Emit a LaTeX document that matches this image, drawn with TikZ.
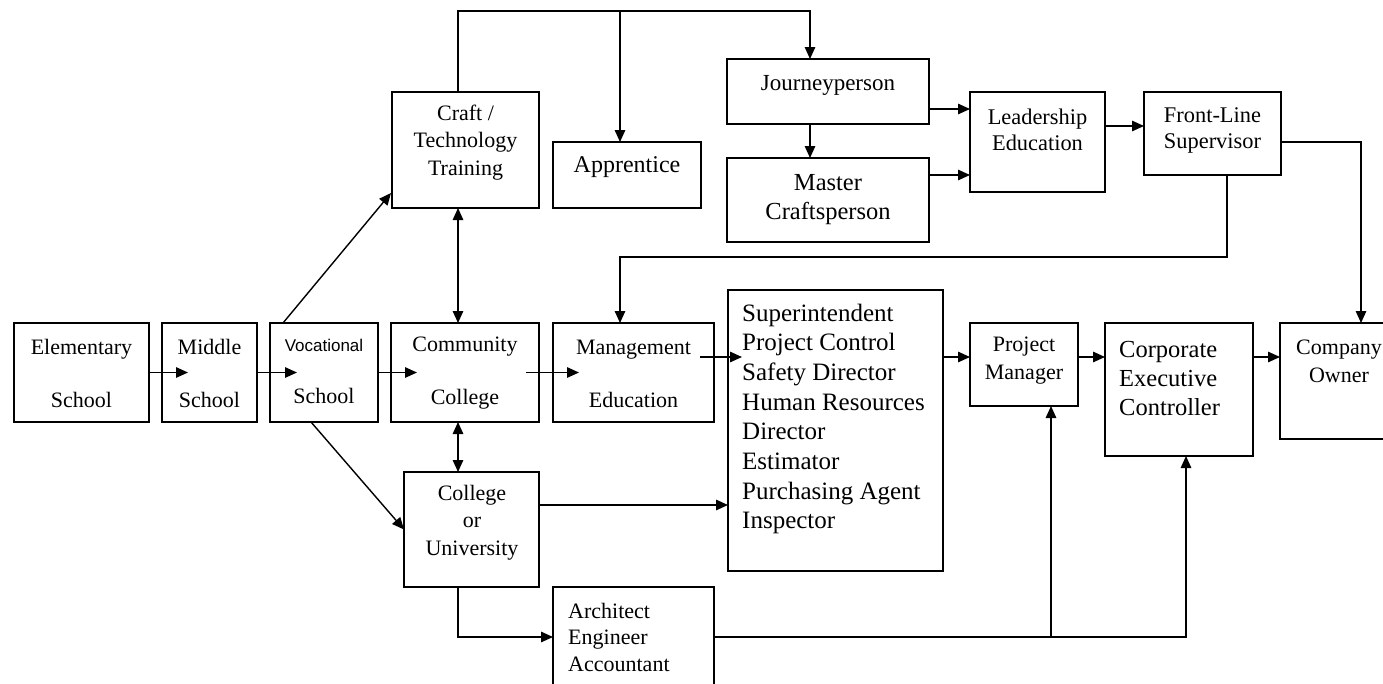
\documentclass[tikz,border=0pt]{standalone}
\usepackage{fontspec}
\setmainfont{Liberation Serif}
\setsansfont{Liberation Sans}
\usetikzlibrary{arrows.meta,calc}
\tikzset{
  box/.style={draw, line width=1.8pt, inner sep=0pt, outer sep=0pt},
  txt/.style={align=center, inner sep=0pt, font=\fontsize{22}{27.5}\selectfont},
  arrow/.style={-{Triangle[length=12pt,width=10.5pt]}, line width=1.4pt},
  both/.style={{Triangle[length=12pt,width=10.5pt]}-{Triangle[length=12pt,width=10.5pt]}, line width=1.4pt},
}

\begin{document}
\begin{tikzpicture}[x=1pt, y=-1pt]
  \useasboundingbox (0,0) rectangle (1383,683);
  \clip (0,0) rectangle (1383,683);

  % Boxes
  \node[box, minimum width=135pt, minimum height=99pt] (elem) at (81.5,372.5) {};
  \node[box, minimum width=95pt, minimum height=99pt] (middle) at (209.5,372.5) {};
  \node[box, minimum width=108pt, minimum height=99pt] (voc) at (324,372.5) {};
  \node[box, minimum width=148pt, minimum height=99pt] (comm) at (465,372.5) {};
  \node[box, minimum width=161pt, minimum height=99pt] (mgmt) at (633.5,372.5) {};
  \node[box, minimum width=147pt, minimum height=116pt] (craft) at (465.5,150) {};
  \node[box, minimum width=148pt, minimum height=66pt] (appr) at (627,175) {};
  \node[box, minimum width=202pt, minimum height=65pt] (journey) at (828,91.5) {};
  \node[box, minimum width=202pt, minimum height=84pt] (master) at (828,200) {};
  \node[box, minimum width=135pt, minimum height=100pt] (lead) at (1037.5,142) {};
  \node[box, minimum width=137pt, minimum height=83pt] (front) at (1212.5,133.5) {};
  \node[box, minimum width=215pt, minimum height=281pt] (supt) at (835.5,430.5) {};
  \node[box, minimum width=108pt, minimum height=83pt] (pm) at (1024,364.5) {};
  \node[box, minimum width=148pt, minimum height=133pt] (corp) at (1179,389.5) {};
  \node[box, minimum width=120pt, minimum height=116pt] (owner) at (1340,381) {};
  \node[box, minimum width=135pt, minimum height=115pt] (univ) at (471.5,529.5) {};
  \node[box, minimum width=161pt, minimum height=116pt] (arch) at (633.5,645) {};

  % Texts
  \node[txt] (elemt) at (81.5,373.5) {Elementary\\[25.5pt]School};
  \node[txt] (middlet) at (209.5,373.5) {Middle\\[25.5pt]School};
  \node[txt] (voct) at (324,371) {{\sffamily\fontsize{17}{20}\selectfont Vocational}\\[24.5pt]School};
  \node[txt] (commt) at (465,373.5) {Community\\[25.5pt]College};
  \node[txt] (mgmtt) at (633.5,373.5) {Management\\[25.5pt]Education};
  \node[txt] (craftt) at (465.5,142.5) {Craft /\\Technology\\Training};
  \node[txt, font=\fontsize{24}{29}\selectfont] (apprt) at (627,167) {Apprentice};
  \node[txt, font=\fontsize{23}{28}\selectfont] (journeyt) at (828,85) {Journeyperson};
  \node[txt, font=\fontsize{24.5}{29}\selectfont] (mastert) at (828,199.5) {Master\\Craftsperson};
  \node[txt, font=\fontsize{22.4}{26}\selectfont] (leadt) at (1037.5,130) {Leadership\\Education};
  \node[txt, font=\fontsize{22.4}{26}\selectfont] (frontt) at (1212.5,130) {Front-Line\\Supervisor};
  \node[txt, align=left, anchor=west, font=\fontsize{25}{29.7}\selectfont] (suptt) at (742,419)
    {Superintendent\\Project Control\\Safety Director\\Human Resources\\Director\\Estimator\\Purchasing Agent\\Inspector};
  \node[txt, font=\fontsize{22}{28}\selectfont] (pmt) at (1024,361) {Project\\Manager};
  \node[txt, align=left, anchor=west, font=\fontsize{24.5}{29}\selectfont] (corpt) at (1119,379) {Corporate\\Executive\\Controller};
  \node[txt, font=\fontsize{22}{28}\selectfont] (ownert) at (1339,361) {Company\\Owner};
  \node[txt] (univt) at (472,522.5) {College\\or\\University};
  \node[txt, align=left, anchor=west, font=\fontsize{22}{26.5}\selectfont] (archt) at (568,637) {Architect\\Engineer\\Accountant};

  % Shared lines
  \coordinate (col) at (458,0);
  \coordinate (colA) at (620,0);
  \coordinate (colJ) at (810,0);
  \coordinate (top) at (0,11);
  \coordinate (row) at (0,357);
  \coordinate (mid) at (0,257);
  \coordinate (brow) at (0,637);

  % Arrows
  \draw[arrow] (elem.east) -- ($(middle.west)+(26,0)$);
  \draw[arrow] (middle.east) -- ($(voc.west)+(27,0)$);
  \draw[arrow] (voc.east) -- ($(comm.west)+(26,0)$);
  \draw[arrow] ($(comm.east)+(-13,0)$) -- ($(mgmt.west)+(26,0)$);
  \draw[arrow] ($(mgmt.east |- row)+(-14,0)$) -- ($(supt.west |- row)+(14,0)$);
  \draw[arrow] (supt.east |- row) -- (pm.west |- row);
  \draw[arrow] (pm.east |- row) -- (corp.west |- row);
  \draw[arrow] (corp.east |- row) -- (owner.west |- row);

  \draw[arrow] ($(voc.north)+(-41,0)$) -- ($(craft.south west)+(-1,-15)$);
  \draw[arrow] ($(voc.south)+(-13,0)$) -- (univ.west);
  \draw[both] (craft.south -| col) -- (comm.north -| col);
  \draw[both] (comm.south -| col) -- (univ.north -| col);

  \draw[arrow] (craft.north -| col) -- (col |- top) -- (colJ |- top) -- (journey.north -| colJ);
  \draw[arrow] (colA |- top) -- (appr.north -| colA);
  \draw[arrow] (journey.south -| colJ) -- (master.north -| colJ);
  \draw[arrow] ($(journey.east)+(0,17.5)$) -- ($(journey.east -| lead.west)+(0,17.5)$);
  \draw[arrow] ($(master.east)+(0,-25)$) -- ($(master.east -| lead.west)+(0,-25)$);
  \draw[arrow] ($(lead.east)+(0,-16)$) -- ($(lead.east -| front.west)+(0,-16)$);
  \draw[arrow] ($(front.east)+(0,8.5)$) -| ($(owner.north)+(21,0)$);
  \draw[arrow] ($(front.south)+(14.5,0)$) |- (colA |- mid) -- (mgmt.north -| colA);

  \draw[arrow] ($(univ.east)+(0,-24.5)$) -- ($(univ.east -| supt.west)+(0,-24.5)$);
  \draw[arrow] (univ.south -| col) |- (arch.west |- brow);
  \draw[arrow] (arch.east |- brow) -| ($(corp.south)+(7,0)$);
  \draw[arrow] ($(pm.south |- brow)+(27,0)$) -- ($(pm.south)+(27,0)$);
\end{tikzpicture}
\end{document}
